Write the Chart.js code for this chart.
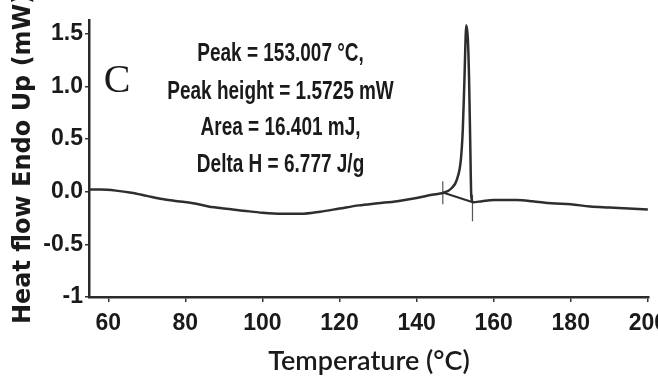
<!DOCTYPE html>
<html lang="en">
<head>
  <meta charset="UTF-8">
  <title>DSC Thermogram C</title>
  <script src="https://cdn.jsdelivr.net/npm/chart.js"></script>
  <style>
    body {
      margin: 0;
      background: #fff;
    }
    #wrap {
      width: 658px;
      height: 377px;
    }
  </style>
</head>
<body>
  <div id="wrap"><canvas id="dscChart"></canvas></div>

  <script>
    // heat flow trace
    const temperature = [55, 58, 62, 66, 70, 74, 78, 82, 86, 90, 95, 100, 105, 110, 115, 120, 125, 130, 135, 140, 144, 147,
      149, 150.5, 151.5, 152, 152.4, 152.9, 153.3, 153.6, 153.9, 154.2, 154.6,
      157, 160, 163, 166, 170, 175, 180, 185, 190, 195, 200];
    const heatFlow = [0.02, 0.02, 0.01, -0.01, -0.04, -0.07, -0.09, -0.11, -0.14, -0.16, -0.18, -0.20, -0.21, -0.21, -0.19, -0.16, -0.13, -0.11, -0.09, -0.06, -0.03, -0.01,
      0.03, 0.12, 0.31, 0.60, 1.05, 1.58, 1.45, 1.10, 0.50, -0.05, -0.10,
      -0.09, -0.08, -0.08, -0.08, -0.09, -0.11, -0.12, -0.14, -0.15, -0.16, -0.17];

    // integration baseline under the peak and the two limit marks
    const baseTemp = [147.0, 154.6];
    const baseFlow = [-0.01, -0.10];
    const onsetTemp = [146.8, 146.8];
    const onsetFlow = [0.10, -0.12];
    const endTemp = [154.5, 154.5];
    const endFlow = [-0.03, -0.28];

    const xTicks = [60, 80, 100, 120, 140, 160, 180, 200];
    const yTicks = [-1, -0.5, 0, 0.5, 1, 1.5];
    const yTickLabels = ['-1', '-0.5', '0.0', '0.5', '1.0', '1.5'];

    const notes = ['Peak = 153.007 °C,', 'Peak height = 1.5725 mW', 'Area = 16.401 mJ,', 'Delta H = 6.777 J/g'];
    const noteTemp = 104.7;
    const noteFlow = [1.31, 0.95, 0.60, 0.25];

    function points(xs, ys) {
      return xs.map((x, i) => ({ x: x, y: ys[i] }));
    }

    const notesPlugin = {
      id: 'notes',
      afterDraw(chart) {
        const ctx = chart.ctx;
        const x = chart.scales.x;
        const y = chart.scales.y;
        ctx.save();
        ctx.fillStyle = '#1a1a1a';
        ctx.textAlign = 'center';
        ctx.textBaseline = 'middle';
        ctx.font = 'bold 25px "Liberation Sans", sans-serif';
        notes.forEach((t, i) => {
          // the original lettering is a condensed face, so squeeze it a bit
          ctx.save();
          ctx.translate(x.getPixelForValue(noteTemp), y.getPixelForValue(noteFlow[i]));
          ctx.scale(0.76, 1);
          ctx.fillText(t, 0, 0);
          ctx.restore();
        });
        ctx.font = '40px "Liberation Serif", serif';
        ctx.fillText('C', x.getPixelForValue(62.3), y.getPixelForValue(1.05));
        ctx.restore();
      }
    };

    const tickFont = { family: '"Liberation Sans", sans-serif', size: 23, weight: 'bold' };

    const ctx = document.getElementById('dscChart').getContext('2d');
    const chart = new Chart(ctx, {
      type: 'line',
      data: {
        datasets: [
          {
            data: points(temperature, heatFlow),
            borderColor: '#2e2e2e',
            borderWidth: 2.5,
            pointRadius: 0,
            cubicInterpolationMode: 'monotone'
          },
          {
            data: points(baseTemp, baseFlow),
            borderColor: '#2e2e2e',
            borderWidth: 2,
            pointRadius: 0
          },
          {
            data: points(onsetTemp, onsetFlow),
            borderColor: '#555',
            borderWidth: 1.2,
            pointRadius: 0
          },
          {
            data: points(endTemp, endFlow),
            borderColor: '#555',
            borderWidth: 1.2,
            pointRadius: 0
          }
        ]
      },
      options: {
        responsive: true,
        maintainAspectRatio: false,
        animation: false,
        layout: { padding: { top: 20, right: 9, left: 0, bottom: 0 } },
        plugins: {
          legend: { display: false },
          tooltip: { enabled: false }
        },
        scales: {
          x: {
            type: 'linear',
            min: 55,
            max: 200.3,
            afterBuildTicks: scale => { scale.ticks = xTicks.map(v => ({ value: v })); },
            afterFit: scale => { scale.height = 80; scale.paddingLeft = 0; scale.paddingRight = 0; },
            ticks: { font: tickFont, color: '#1a1a1a', padding: 8, maxRotation: 0 },
            grid: { drawOnChartArea: false, tickLength: 5, color: '#333', lineWidth: 1.5 },
            border: { color: '#2a2a2a', width: 2.5 },
            title: {
              display: true,
              text: 'Temperature (°C)',
              color: '#1a1a1a',
              font: { family: 'Lato, sans-serif', size: 27, weight: '600' },
              padding: { top: 0, bottom: 0 }
            }
          },
          y: {
            min: -1,
            max: 1.63,
            afterBuildTicks: scale => { scale.ticks = yTicks.map(v => ({ value: v })); },
            afterFit: scale => { scale.width = 89; },
            ticks: {
              font: tickFont,
              color: '#1a1a1a',
              padding: 2,
              callback: (value, index) => yTickLabels[index]
            },
            grid: { drawOnChartArea: false, tickLength: 4, color: '#333', lineWidth: 1.5 },
            border: { color: '#2a2a2a', width: 2.5 },
            title: {
              display: true,
              text: 'Heat flow Endo Up (mW)',
              color: '#1a1a1a',
              font: { family: '"DejaVu Sans", sans-serif', size: 24, weight: 'bold' },
              padding: { top: 9, bottom: 0 }
            }
          }
        }
      },
      plugins: [notesPlugin]
    });
  </script>
</body>
</html>
